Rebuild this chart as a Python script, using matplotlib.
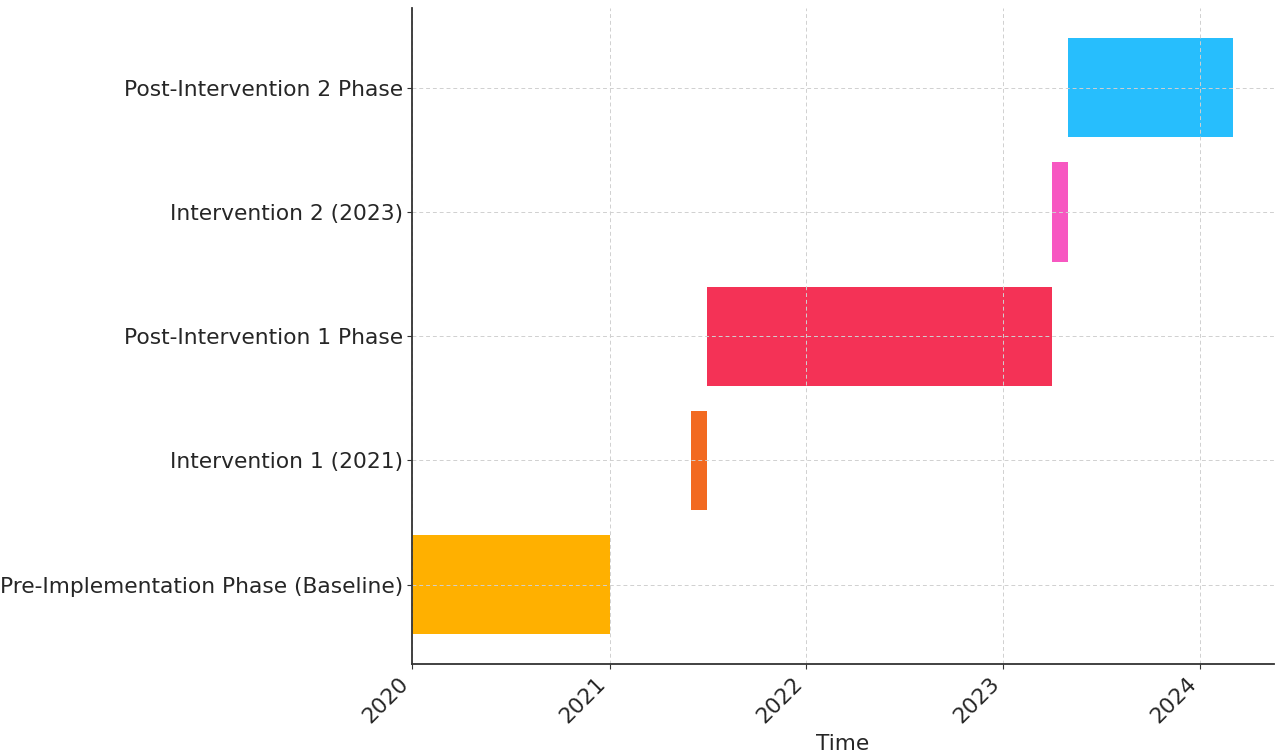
import pandas as pd
import matplotlib.pyplot as plt
import matplotlib.dates as mdates

phases = [
    "Pre-Implementation Phase (Baseline)",
    "Intervention 1 (2021)",
    "Post-Intervention 1 Phase",
    "Intervention 2 (2023)",
    "Post-Intervention 2 Phase",
]
starts = ["2020-01-01", "2021-06-01", "2021-07-01", "2023-04-01", "2023-05-01"]
ends = ["2021-01-01", "2021-07-01", "2023-04-01", "2023-05-01", "2024-03-01"]
colors = ["#FFB000", "#F26A21", "#F43256", "#F757C1", "#27BEFD"]

start_d = pd.to_datetime(starts)
end_d = pd.to_datetime(ends)
left = mdates.date2num(start_d)
width = mdates.date2num(end_d) - left

fig, ax = plt.subplots(figsize=(12.8, 7.53), dpi=100)
fig.subplots_adjust(left=0.322, right=0.995, top=0.989, bottom=0.118)

ax.barh(phases, width, left=left, color=colors, height=0.8)

ax.xaxis_date()
ax.xaxis.set_major_locator(mdates.YearLocator())
ax.xaxis.set_major_formatter(mdates.DateFormatter("%Y"))
plt.setp(ax.get_xticklabels(), rotation=45, ha="right")

ax.tick_params(labelsize=15.7, labelcolor="#262626", color="#333333", pad=3)
ax.set_xlabel("Time", fontsize=15.7, color="#262626", labelpad=5)
ax.grid(True, linestyle=(0, (4, 3)), color="#d0d0d0", linewidth=0.7)
ax.spines["top"].set_visible(False)
ax.spines["right"].set_visible(False)
for s in ["left", "bottom"]:
    ax.spines[s].set_color("#333333")
    ax.spines[s].set_linewidth(1.3)

plt.savefig("out.png", dpi=100)
